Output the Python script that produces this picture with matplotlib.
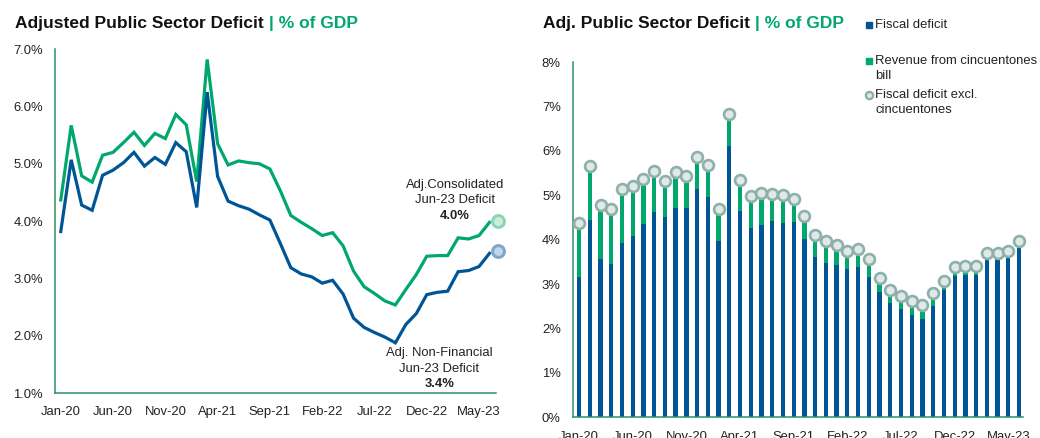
import numpy as np
import pandas as pd
import matplotlib
matplotlib.use("Agg")
import matplotlib.pyplot as plt
from matplotlib.lines import Line2D

plt.rcParams["font.family"] = ["Liberation Sans", "DejaVu Sans"]

# ---- data (Jan-20 .. Jun-23, monthly, % of GDP)
months = pd.date_range("2020-01-01", periods=42, freq="MS").strftime("%b-%y").tolist()
tick_labels = ["Jan-20", "Jun-20", "Nov-20", "Apr-21", "Sep-21", "Feb-22", "Jul-22", "Dec-22", "May-23"]

consolidated = [4.37, 5.67, 4.79, 4.68, 5.15, 5.20, 5.37, 5.55, 5.32, 5.53,
                5.44, 5.86, 5.68, 4.69, 6.82, 5.35, 4.98, 5.05, 5.02, 5.00,
                4.91, 4.53, 4.10, 3.98, 3.87, 3.75, 3.80, 3.57, 3.13, 2.86,
                2.74, 2.61, 2.54, 2.81, 3.07, 3.39, 3.40, 3.40, 3.71, 3.69,
                3.75, 3.98]
non_financial = [3.82, 5.07, 4.28, 4.19, 4.80, 4.89, 5.02, 5.20, 4.96, 5.11,
                 4.99, 5.37, 5.21, 4.24, 6.25, 4.78, 4.35, 4.27, 4.21, 4.11,
                 4.02, 3.61, 3.19, 3.08, 3.03, 2.92, 2.97, 2.73, 2.31, 2.15,
                 2.06, 1.98, 1.88, 2.20, 2.39, 2.72, 2.76, 2.78, 3.12, 3.14,
                 3.21, 3.44]
fiscal_deficit = [3.15, 4.44, 3.57, 3.45, 3.93, 4.09, 4.35, 4.62, 4.51, 4.72,
                  4.72, 5.14, 4.97, 3.97, 6.10, 4.65, 4.27, 4.34, 4.41, 4.38,
                  4.40, 4.02, 3.60, 3.47, 3.44, 3.33, 3.39, 3.17, 2.83, 2.57,
                  2.43, 2.30, 2.22, 2.51, 2.87, 3.18, 3.20, 3.20, 3.56, 3.54,
                  3.60, 3.82]
last_consolidated = 4.0
last_non_financial = 3.48

GREEN = "#00a86b"
BLUE = "#005596"
SPINE = "#2f8f68"
TXT = "#222222"
FS = 9.4

x = np.arange(len(months))
tick_pos = [months.index(t) for t in tick_labels]
revenue = np.array(consolidated) - np.array(fiscal_deficit)

fig = plt.figure(figsize=(10.4, 4.38), dpi=100)

# ---------------- left chart
ax1 = fig.add_axes([0.0532, 0.102, 0.4235, 0.786])
ax1.plot(x, consolidated, color=GREEN, lw=2.3, solid_joinstyle="miter")
ax1.plot(x, non_financial, color=BLUE, lw=2.3, solid_joinstyle="miter")
ax1.plot([41.8], [last_consolidated], "o", ms=8.5, mfc="#cdeedd", mec="#8fd4b3", mew=2.2, clip_on=False, zorder=5)
ax1.plot([41.8], [last_non_financial], "o", ms=8.5, mfc="#c5d6e9", mec="#7fa6cc", mew=2.2, clip_on=False, zorder=5)
ax1.set_xlim(-0.52, 41.6)
ax1.set_ylim(1, 7)
ax1.set_yticks(np.arange(1, 7.01, 1))
ax1.set_yticklabels(["%.1f%%" % v for v in np.arange(1, 7.01, 1)])
ax1.set_xticks(tick_pos)
ax1.set_xticklabels(tick_labels)

ax1.text(37.7, 4.63, "Adj.Consolidated", ha="center", va="center", fontsize=FS, color=TXT)
ax1.text(37.7, 4.37, "Jun-23 Deficit", ha="center", va="center", fontsize=FS, color=TXT)
ax1.text(37.7, 4.09, "4.0%", ha="center", va="center", fontsize=FS, color=TXT, fontweight="bold")
ax1.text(36.2, 1.71, "Adj. Non-Financial", ha="center", va="center", fontsize=FS, color=TXT)
ax1.text(36.2, 1.43, "Jun-23 Deficit", ha="center", va="center", fontsize=FS, color=TXT)
ax1.text(36.2, 1.17, "3.4%", ha="center", va="center", fontsize=FS, color=TXT, fontweight="bold")

# ---------------- right chart
ax2 = fig.add_axes([0.5513, 0.0473, 0.4327, 0.811])
ax2.bar(x, fiscal_deficit, width=0.4, color=BLUE, zorder=2)
ax2.bar(x, revenue, width=0.4, bottom=fiscal_deficit, color=GREEN, zorder=2)
ax2.plot(x, consolidated, "o", ls="none", ms=7.8, mfc="#dfe9e7", mec="#8fb0aa", mew=1.9, zorder=3, clip_on=False)
ax2.set_xlim(-0.53, 41.4)
ax2.set_ylim(0, 8)
ax2.set_yticks(range(0, 9))
ax2.set_yticklabels(["%d%%" % v for v in range(0, 9)])
ax2.set_xticks(tick_pos)
ax2.set_xticklabels(tick_labels)

for ax in (ax1, ax2):
    for s in ("top", "right"):
        ax.spines[s].set_visible(False)
    ax.spines["left"].set_color(SPINE)
    ax.spines["bottom"].set_color(SPINE)
    ax.spines["left"].set_linewidth(1.1)
    ax.spines["bottom"].set_linewidth(1.1)
    ax.tick_params(length=0, labelsize=FS, colors=TXT)
ax1.tick_params(axis="y", pad=9)
ax1.tick_params(axis="x", pad=9)
ax2.tick_params(axis="y", pad=9)
ax2.tick_params(axis="x", pad=10)

# ---------------- titles (black part followed by green part)
renderer = fig.canvas.get_renderer()


def title(x0, black, green):
    t = fig.text(x0, 0.947, black, fontsize=12.5, fontweight="bold", color="#111111", va="center")
    bb = t.get_window_extent(renderer)
    fig.text(bb.x1 / fig.bbox.width, 0.947, green,
             fontsize=12.5, fontweight="bold", color=GREEN, va="center")


title(0.0145, "Adjusted Public Sector Deficit", " | % of GDP")
title(0.5222, "Adj. Public Sector Deficit", " | % of GDP")

# ---------------- legend (right chart)
def fy(py):
    return 1 - py / 438.0

fig.add_artist(Line2D([869 / 1040], [fy(25)], marker="s", ms=4.8, color=BLUE, ls="none"))
fig.text(875 / 1040, fy(25), "Fiscal deficit", fontsize=FS, color=TXT, va="center")
fig.add_artist(Line2D([869 / 1040], [fy(61)], marker="s", ms=4.8, color=GREEN, ls="none"))
fig.text(875 / 1040, fy(61), "Revenue from cincuentones", fontsize=FS, color=TXT, va="center")
fig.text(875 / 1040, fy(76), "bill", fontsize=FS, color=TXT, va="center")
fig.add_artist(Line2D([869 / 1040], [fy(95)], marker="o", ms=5.2, mfc="#dfe9e7", mec="#8fb0aa", mew=1.7, ls="none"))
fig.text(875 / 1040, fy(95), "Fiscal deficit excl.", fontsize=FS, color=TXT, va="center")
fig.text(875 / 1040, fy(110), "cincuentones", fontsize=FS, color=TXT, va="center")

fig.savefig("out.png", dpi=100)
